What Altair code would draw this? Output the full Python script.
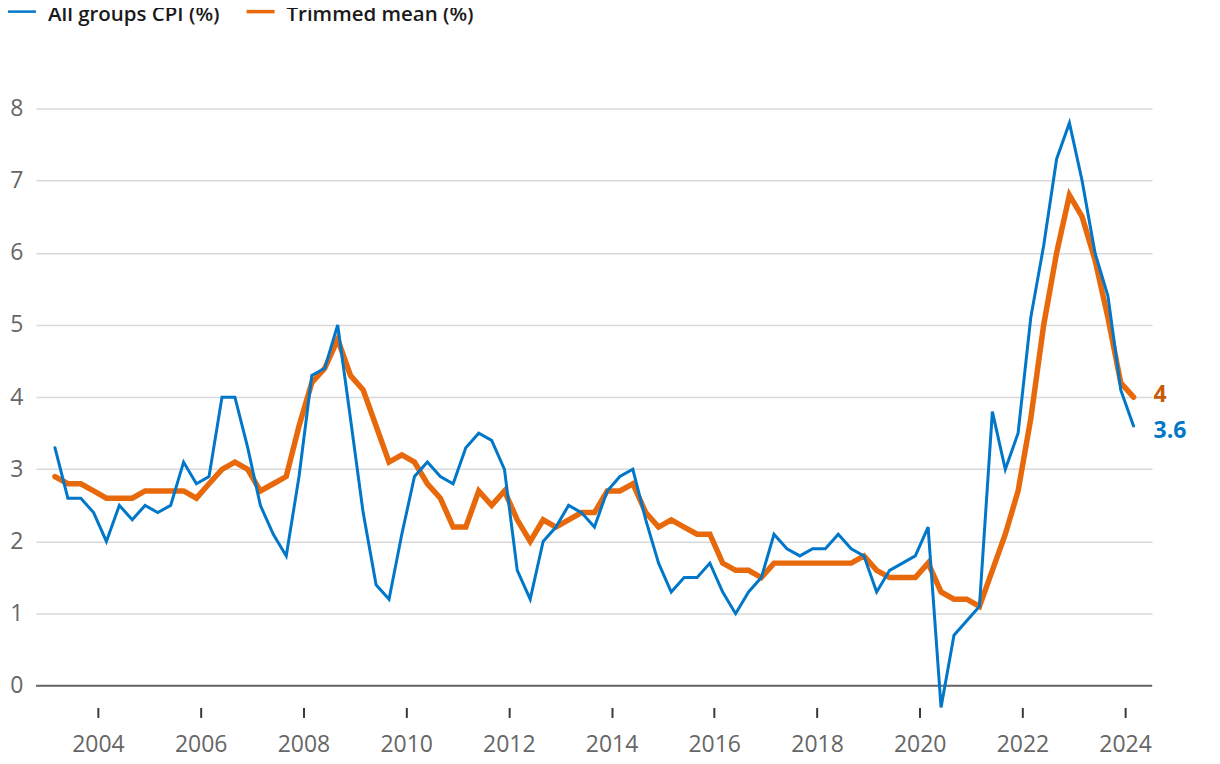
import altair as alt
import pandas as pd

# Quarter dates (quarter-end months), 2003 Q1 .. 2024 Q1
QUARTERS = pd.date_range("2003-03-01", periods=85, freq="3MS").strftime("%Y-%m-%d").tolist()

CPI = [3.3, 2.6, 2.6, 2.4, 2.0, 2.5, 2.3, 2.5, 2.4, 2.5,
       3.1, 2.8, 2.9, 4.0, 4.0, 3.3, 2.5, 2.1, 1.8, 2.9,
       4.3, 4.4, 5.0, 3.7, 2.4, 1.4, 1.2, 2.1, 2.9, 3.1,
       2.9, 2.8, 3.3, 3.5, 3.4, 3.0, 1.6, 1.2, 2.0, 2.2,
       2.5, 2.4, 2.2, 2.7, 2.9, 3.0, 2.3, 1.7, 1.3, 1.5,
       1.5, 1.7, 1.3, 1.0, 1.3, 1.5, 2.1, 1.9, 1.8, 1.9,
       1.9, 2.1, 1.9, 1.8, 1.3, 1.6, 1.7, 1.8, 2.2, -0.3,
       0.7, 0.9, 1.1, 3.8, 3.0, 3.5, 5.1, 6.1, 7.3, 7.8,
       7.0, 6.0, 5.4, 4.1, 3.6]

TRIMMED = [2.9, 2.8, 2.8, 2.7, 2.6, 2.6, 2.6, 2.7, 2.7, 2.7,
           2.7, 2.6, 2.8, 3.0, 3.1, 3.0, 2.7, 2.8, 2.9, 3.6,
           4.2, 4.4, 4.8, 4.3, 4.1, 3.6, 3.1, 3.2, 3.1, 2.8,
           2.6, 2.2, 2.2, 2.7, 2.5, 2.7, 2.3, 2.0, 2.3, 2.2,
           2.3, 2.4, 2.4, 2.7, 2.7, 2.8, 2.4, 2.2, 2.3, 2.2,
           2.1, 2.1, 1.7, 1.6, 1.6, 1.5, 1.7, 1.7, 1.7, 1.7,
           1.7, 1.7, 1.7, 1.8, 1.6, 1.5, 1.5, 1.5, 1.7, 1.3,
           1.2, 1.2, 1.1, 1.6, 2.1, 2.7, 3.7, 5.0, 6.0, 6.8,
           6.5, 5.9, 5.1, 4.2, 4.0]

SERIES = ["All groups CPI (%)", "Trimmed mean (%)"]
COLORS = ["#0077C8", "#E8690B"]
LABEL_COLORS = ["#0077C8", "#C85A06"]
TICK_YEARS = list(range(2004, 2025, 2))
Y_TICKS = list(range(0, 9))

FONT = "Open Sans"

cpi_df = pd.DataFrame({"date": QUARTERS, "value": CPI, "series": SERIES[0]})
tm_df = pd.DataFrame({"date": QUARTERS, "value": TRIMMED, "series": SERIES[1]})

x_enc = alt.X(
    "date:T",
    scale=alt.Scale(
        type="utc",
        domain=[alt.DateTime(year=2002, month=10, date=17, utc=True),
                alt.DateTime(year=2024, month=7, date=11, utc=True)],
    ),
    axis=alt.Axis(
        values=[alt.DateTime(year=y, month=1, date=1, utc=True) for y in TICK_YEARS],
        format="%Y",
        title=None,
        domain=False,
        grid=False,
        ticks=True,
        tickSize=10,
        tickWidth=2,
        tickColor="#3a3a3a",
        labelPadding=16,
        labelFont=FONT,
        labelFontSize=23,
        labelColor="#666666",
    ),
)

y_enc = alt.Y(
    "value:Q",
    scale=alt.Scale(domain=[-0.3, 8], nice=False, zero=False),
    axis=alt.Axis(
        values=Y_TICKS,
        title=None,
        domain=False,
        ticks=False,
        grid=True,
        gridColor="#d9d9d9",
        gridWidth=1.5,
        labelPadding=13,
        labelAlign="right",
        labelFont=FONT,
        labelFontSize=23,
        labelColor="#666666",
    ),
)

zero_rule = alt.Chart(pd.DataFrame({"value": [0]})).mark_rule(
    color="#666666", strokeWidth=2
).encode(y=y_enc)

tm_line = alt.Chart(tm_df).mark_line(
    color=COLORS[1], strokeWidth=5.5, strokeCap="round"
).encode(x=x_enc, y=y_enc)

cpi_line = alt.Chart(cpi_df).mark_line(
    color=COLORS[0], strokeWidth=3, strokeCap="round"
).encode(x=x_enc, y=y_enc)

tm_last = tm_df.tail(1).assign(label=lambda d: d["value"].map(lambda v: f"{v:g}"))
cpi_last = cpi_df.tail(1).assign(label=lambda d: d["value"].map(lambda v: f"{v:g}"))

tm_label = alt.Chart(tm_last).mark_text(
    align="left", baseline="middle", dx=20, dy=-2,
    font=FONT, fontSize=23, fontWeight="bold", color=LABEL_COLORS[1]
).encode(x=x_enc, y=y_enc, text="label:N")

cpi_label = alt.Chart(cpi_last).mark_text(
    align="left", baseline="middle", dx=20, dy=5,
    font=FONT, fontSize=23, fontWeight="bold", color=LABEL_COLORS[0]
).encode(x=x_enc, y=y_enc, text="label:N")

# Legend (manual, at top, partially clipped as in the reference)
legend_df = pd.DataFrame({"series": SERIES, "color": COLORS})
legend_layers = []
swatch_x = [-28, 211]
text_x = [12, 251]
swatch_w = [2.5, 3.5]
for i in range(2):
    row = legend_df.iloc[[i]]
    legend_layers.append(
        alt.Chart(row).mark_rule(color=COLORS[i], strokeWidth=swatch_w[i]).encode(
            x=alt.value(swatch_x[i]), x2=alt.value(swatch_x[i] + 28), y=alt.value(-97)
        )
    )
    legend_layers.append(
        alt.Chart(row).mark_text(
            align="left", baseline="alphabetic", font=FONT, fontSize=20.5,
            fontWeight=600, color="#1a1a1a"
        ).encode(x=alt.value(text_x[i]), y=alt.value(-88), text="series:N")
    )

chart = alt.layer(
    zero_rule, tm_line, cpi_line, tm_label, cpi_label, *legend_layers
).properties(
    width=1118,
    height=600,
    padding={"left": 28, "top": 100, "right": 60, "bottom": 54},
    autosize=alt.AutoSizeParams(type="none"),
).configure_view(stroke=None)

chart.save("out.html", embed_options={"renderer": "svg", "actions": False})
